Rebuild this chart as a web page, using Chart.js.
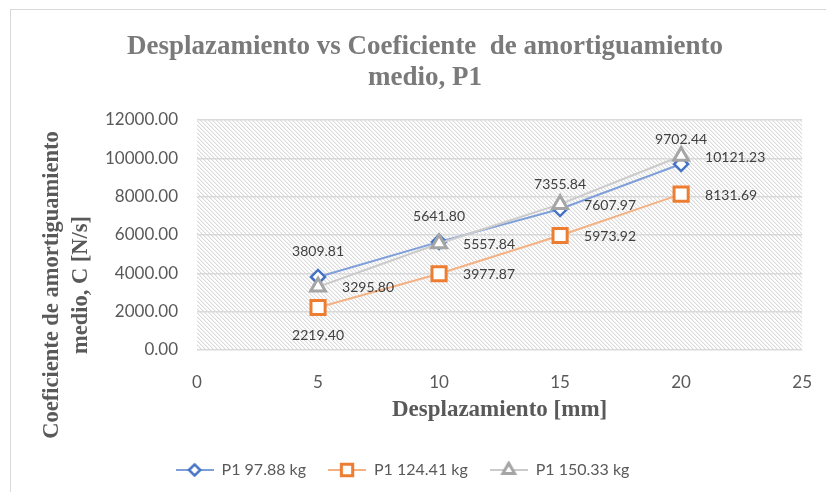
<!DOCTYPE html>
<html>
<head>
<meta charset="utf-8">
<script src="https://cdn.jsdelivr.net/npm/chart.js@4.4.1/dist/chart.umd.min.js"></script>
<style>
  html, body { margin: 0; padding: 0; background: #fff; }
  #wrap { position: relative; width: 826px; height: 492px; }
  #marco { position: absolute; left: 10px; top: 9px; width: 830px; height: 500px; border: 1px solid #d9d9d9; box-sizing: border-box; }
</style>
</head>
<body>
<div id="wrap">
  <div id="marco"></div>
  <canvas id="grafico" width="826" height="492"></canvas>
</div>
<script>
/* Desplazamiento vs Coeficiente de amortiguamiento medio, P1 */

const desplazamientos = [5, 10, 15, 20];
const series = ['P1 97.88 kg', 'P1 124.41 kg', 'P1 150.33 kg'];
const c_97_88  = [3809.81, 5641.80, 7355.84, 9702.44];
const c_124_41 = [2219.40, 3977.87, 5973.92, 8131.69];
const c_150_33 = [3295.80, 5557.84, 7607.97, 10121.23];
const ticksY = [0, 2000, 4000, 6000, 8000, 10000, 12000];
const ticksX = [0, 5, 10, 15, 20, 25];
const titulo = ['Desplazamiento vs Coeficiente  de amortiguamiento', 'medio, P1'];
const tituloY = ['Coeficiente de amortiguamiento', 'medio, C [N/s]'];

// estilo de cada serie (colores tipo Office)
const ESTILO = [
  { linea: '#7f9fd9', marca: '#4472c4', forma: 'rectRot',  radio: 7,   borde: 2.5 },
  { linea: '#f4b183', marca: '#ed7d31', forma: 'rect',     radio: 10,  borde: 3 },
  { linea: '#cbcbcb', marca: '#a5a5a5', forma: 'triangle', radio: 8.5, borde: 3 },
];
// donde va cada etiqueta de dato
const POS_ETIQ = [
  ['top', 'top', 'top', 'top'],
  ['bottom', 'right', 'right', 'right'],
  ['right', 'right', 'right', 'right'],
];

const valores = [c_97_88, c_124_41, c_150_33];

// trama diagonal del área de trazado (píxel a píxel, sin suavizado)
function trama() {
  const c = document.createElement('canvas');
  c.width = 4; c.height = 4;
  const g = c.getContext('2d');
  g.fillStyle = '#fff';
  g.fillRect(0, 0, 4, 4);
  for (let i = 0; i < 4; i++) {
    g.fillStyle = '#dadada';
    g.fillRect(i, i, 1, 1);
    g.fillStyle = '#f1f1f1';
    g.fillRect((i + 1) % 4, i, 1, 1);
  }
  return c;
}

// icono de leyenda: línea + marcador
function iconoLeyenda(est) {
  const c = document.createElement('canvas');
  c.width = 38; c.height = 18;
  const g = c.getContext('2d');
  g.strokeStyle = est.linea;
  g.lineWidth = 2;
  g.beginPath(); g.moveTo(0, 9); g.lineTo(38, 9); g.stroke();
  g.fillStyle = '#fff';
  g.strokeStyle = est.marca;
  g.lineWidth = est.borde;
  Chart.helpers.drawPoint(g, { pointStyle: est.forma, radius: est.radio * 0.8, rotation: 0, borderWidth: est.borde }, 19, 9);
  return c;
}

const iconos = ESTILO.map(iconoLeyenda);

const datasets = series.map((nombre, i) => ({
  label: nombre,
  data: desplazamientos.map((x, k) => ({ x: x, y: valores[i][k] })),
  borderColor: ESTILO[i].linea,
  borderWidth: 2,
  pointStyle: ESTILO[i].forma,
  pointRadius: ESTILO[i].radio,
  pointBorderWidth: ESTILO[i].borde,
  pointBorderColor: ESTILO[i].marca,
  pointBackgroundColor: '#fff',
  tension: 0,
  order: 2 - i,
}));

const fondoTrama = {
  id: 'fondo-trama',
  beforeDraw(chart) {
    const { ctx, chartArea: a } = chart;
    ctx.save();
    ctx.fillStyle = ctx.createPattern(trama(), 'repeat');
    ctx.fillRect(a.left, a.top, a.right - a.left, a.bottom - a.top);
    ctx.restore();
  }
};

// títulos al estilo Excel (el del eje Y no va centrado en el área)
const titulos = {
  id: 'titulos',
  afterDraw(chart) {
    const { ctx } = chart;
    ctx.save();
    ctx.textAlign = 'center';
    ctx.textBaseline = 'middle';
    ctx.fillStyle = '#7a7a7a';
    ctx.font = 'bold 27px "Liberation Serif", serif';
    ctx.fillText(titulo[0], 425, 47);
    ctx.fillText(titulo[1], 425, 78);

    ctx.fillStyle = '#595959';
    ctx.font = 'bold 22.5px "Liberation Serif", serif';
    ctx.translate(0, 285);
    ctx.rotate(-Math.PI / 2);
    ctx.fillText(tituloY[0], 0, 52);
    ctx.fillText(tituloY[1], 0, 81);
    ctx.restore();
  }
};

const etiquetas = {
  id: 'etiquetas-datos',
  afterDatasetsDraw(chart) {
    const { ctx } = chart;
    ctx.save();
    ctx.font = '14px Lato, sans-serif';
    ctx.fillStyle = '#404040';
    valores.forEach((serie, i) => {
      const meta = chart.getDatasetMeta(i);
      meta.data.forEach((pt, k) => {
        const txt = serie[k].toFixed(2);
        const pos = POS_ETIQ[i][k];
        if (pos === 'right') {
          ctx.textAlign = 'left'; ctx.textBaseline = 'middle';
          ctx.fillText(txt, pt.x + 24, pt.y + 1);
        } else if (pos === 'top') {
          ctx.textAlign = 'center'; ctx.textBaseline = 'middle';
          ctx.fillText(txt, pt.x, pt.y - 25);
        } else {
          ctx.textAlign = 'center'; ctx.textBaseline = 'middle';
          ctx.fillText(txt, pt.x, pt.y + 28);
        }
      });
    });
    ctx.restore();
  }
};

new Chart(document.getElementById('grafico'), {
  type: 'line',
  data: { datasets },
  options: {
    animation: false,
    responsive: false,
    layout: { padding: { left: 0, right: 21, top: 120, bottom: 4 } },
    plugins: {
      title: { display: false },
      legend: {
        position: 'bottom',
        labels: {
          usePointStyle: true,
          pointStyleWidth: 38,
          padding: 22,
          color: '#595959',
          font: { family: 'Lato, sans-serif', size: 16 },
          generateLabels: chart => chart.data.datasets.map((d, i) => ({
            text: d.label,
            pointStyle: iconos[i],
            datasetIndex: i,
            fontColor: '#595959',
            fillStyle: 'transparent',
            strokeStyle: 'transparent',
            lineWidth: 0,
            hidden: false,
          }))
        }
      },
      tooltip: { enabled: false }
    },
    scales: {
      x: {
        type: 'linear',
        min: 0, max: 25,
        afterBuildTicks: s => { s.ticks = ticksX.map(v => ({ value: v })); },
        grid: { display: false },
        border: { display: false },
        ticks: { color: '#595959', font: { family: 'Lato, sans-serif', size: 17 }, padding: 14 },
        title: {
          display: true,
          text: 'Desplazamiento [mm]',
          color: '#595959',
          font: { family: '"Liberation Serif", serif', size: 23, weight: 'bold', lineHeight: 1.2 },
          padding: { top: 0, bottom: 16 }
        },
        afterFit: s => { s.height = 90; }
      },
      y: {
        min: 0, max: 12000,
        afterBuildTicks: s => { s.ticks = ticksY.map(v => ({ value: v })); },
        grid: { color: '#d9d9d9', lineWidth: 1.5, drawTicks: false },
        border: { display: false },
        ticks: {
          color: '#595959',
          font: { family: 'Lato, sans-serif', size: 17 },
          padding: 19,
          callback: v => v.toFixed(2)
        },
        afterFit: s => { s.width = 197; }
      }
    }
  },
  plugins: [fondoTrama, etiquetas, titulos]
});
</script>
</body>
</html>
